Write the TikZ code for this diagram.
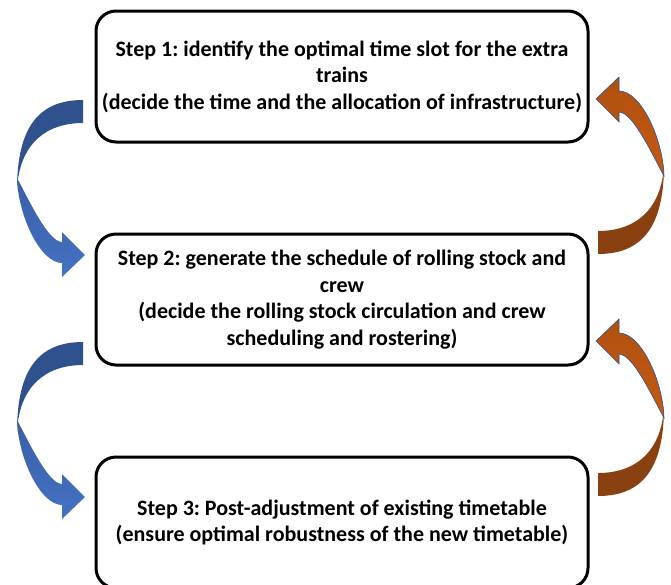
\documentclass[tikz,border=0pt]{standalone}
\usepackage{fontspec}
\setmainfont{Carlito}
\frenchspacing
\usetikzlibrary{positioning}
\definecolor{arrowdark}{HTML}{2F528F}
\definecolor{arrowmid}{HTML}{3A5EA6}
\definecolor{arrowblue}{HTML}{4472C4}
\definecolor{arrowbrown}{HTML}{8A4112}
\definecolor{orangemid}{HTML}{B0500F}
\definecolor{arroworange}{HTML}{C55A11}
\tikzset{stepbox/.style={draw, line width=3pt, rounded corners=20pt, minimum width=492pt, minimum height=131pt, inner sep=2pt, align=center, font=\fontsize{22}{26.5}\selectfont\bfseries},
pics/bendarrow/.style 2 args={code={
    \fill [#1] (83,100) .. controls (38,100) and (17,128) .. (17,190) .. controls (19,145) and (45,123) .. (83,123) -- cycle;
    \path [#2] (17,178) .. controls (18,215) and (40,263) .. (62,263) -- (62,277) -- (85,255) -- (62,232) -- (62,242) .. controls (48,242) and (28,198) .. (17,178) -- cycle;
}}
}

\begin{document}
\begin{tikzpicture}[x=1pt, y=-1pt]
    \useasboundingbox (0,0) rectangle (671,584);
    % Steps
    \node [stepbox] (step1) at (342,76.5) {Step 1: identify the optimal time slot for the extra\\ trains\\ (decide the time and the allocation of infrastructure)};
    \node [stepbox, below=89pt of step1] (step2) {Step 2: generate the schedule of rolling stock and\\ crew\\ (decide the rolling stock circulation and crew\\ scheduling and rostering)};
    \node [stepbox, below=89pt of step2] (step3) {Step 3: Post-adjustment of existing timetable\\ (ensure optimal robustness of the new timetable)};
    % Arrows
    \pic at (0,0) {bendarrow={fill=arrowdark}{top color=arrowmid, bottom color=arrowblue}};
    \pic at (0,242) {bendarrow={fill=arrowdark}{top color=arrowmid, bottom color=arrowblue}};
    \pic [rotate=180] at (681,354) {bendarrow={fill=arrowbrown}{top color=orangemid, bottom color=arroworange, draw=arrowdark, line width=0.6pt}};
    \pic [rotate=180] at (681,596) {bendarrow={fill=arrowbrown}{top color=orangemid, bottom color=arroworange, draw=arrowdark, line width=0.6pt}};
\end{tikzpicture}
\end{document}
